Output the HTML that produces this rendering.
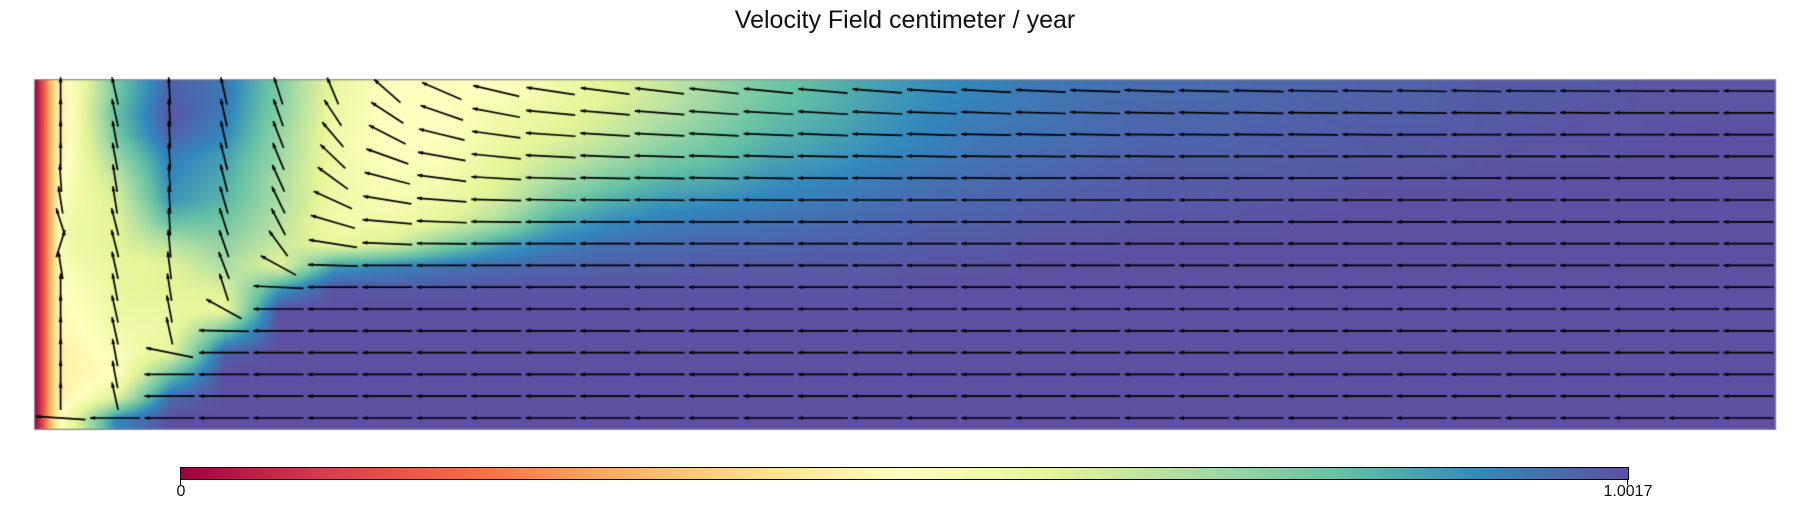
<!DOCTYPE html>
<html><head><meta charset="utf-8">
<style>
html,body{margin:0;padding:0;background:#fff;}
#root{position:relative;width:1810px;height:510px;overflow:hidden;font-family:"Liberation Sans",sans-serif;}
#title{position:absolute;left:0;width:1810px;top:6px;text-align:center;font-size:25px;color:#111;}
#plot{position:absolute;left:0;top:0;}
#cbar{position:absolute;left:180px;top:467px;width:1447px;height:11px;border:1px solid #000;
background:linear-gradient(to right,#9e0142 0%,#d53e4f 10%,#f46d43 20%,#fdae61 30%,#fee08b 40%,#ffffbf 50%,#e6f598 60%,#abdda4 70%,#66c2a5 80%,#3288bd 90%,#5e4fa2 100%);}
.tick{position:absolute;top:479px;width:1px;height:6px;background:#000;}
.lbl{position:absolute;top:483px;font-size:16px;color:#111;transform:translateX(-50%);}
</style></head>
<body>
<div id="root">
<div id="title">Velocity Field centimeter / year</div>
<canvas id="plot" width="1810" height="510"></canvas>
<div id="cbar"></div>
<div class="tick" style="left:180px"></div>
<div class="tick" style="left:1627px"></div>
<div class="lbl" style="left:181px">0</div>
<div class="lbl" style="left:1628px">1.0017</div>
</div>
<script>
// normalized speed per column (16 rows each, top to bottom)
const fieldByColumn = [
[.45,.45,.45,.47,.5,.52,.55,.55,.53,.5,.48,.47,.45,.45,.45,.5],
[.78,.8,.78,.72,.66,.62,.6,.6,.58,.58,.57,.55,.52,.5,.6,.9],
[.97,.99,.97,.92,.9,.88,.8,.68,.6,.6,.58,.57,.6,.8,.95,1],
[.93,.92,.9,.86,.84,.82,.78,.74,.7,.62,.58,.8,.97,1,1,1],
[.76,.75,.73,.72,.7,.7,.68,.65,.6,.86,1,1,1,1,1,1],
[.58,.57,.56,.56,.56,.56,.55,.58,.86,.99,1,1,1,1,1,1],
[.5,.5,.5,.5,.52,.53,.55,.62,.9,.98,1,1,1,1,1,1],
[.5,.5,.5,.52,.54,.56,.6,.75,.93,.98,1,1,1,1,1,1],
[.5,.55,.56,.58,.6,.63,.7,.85,.95,.99,1,1,1,1,1,1],
[.55,.58,.6,.64,.69,.76,.84,.91,.96,.99,1,1,1,1,1,1],
[.6,.62,.65,.7,.76,.83,.89,.94,.97,.99,1,1,1,1,1,1],
[.65,.68,.72,.76,.82,.87,.92,.95,.97,.99,1,1,1,1,1,1],
[.72,.74,.77,.8,.84,.89,.93,.96,.98,.99,1,1,1,1,1,1],
[.78,.8,.82,.85,.88,.91,.94,.96,.98,.99,1,1,1,1,1,1],
[.82,.83,.85,.87,.9,.92,.95,.97,.98,.99,1,1,1,1,1,1],
[.86,.87,.88,.9,.92,.94,.96,.97,.98,.99,1,1,1,1,1,1],
[.89,.9,.91,.92,.94,.95,.97,.98,.99,1,1,1,1,1,1,1],
[.91,.92,.93,.94,.95,.96,.97,.98,.99,1,1,1,1,1,1,1],
[.93,.93,.94,.95,.96,.97,.98,.99,1,1,1,1,1,1,1,1],
[.94,.95,.95,.96,.97,.98,.98,.99,1,1,1,1,1,1,1,1],
[.95,.96,.96,.97,.98,.98,.99,1,1,1,1,1,1,1,1,1],
[.95,.96,.96,.97,.98,.98,.99,1,1,1,1,1,1,1,1,1],
[.96,.96,.97,.97,.98,.99,.99,1,1,1,1,1,1,1,1,1],
[.96,.97,.97,.98,.98,.99,1,1,1,1,1,1,1,1,1,1],
[.97,.97,.98,.98,.99,1,1,1,1,1,1,1,1,1,1,1],
[.97,.97,.98,.98,.99,1,1,1,1,1,1,1,1,1,1,1],
[.98,.98,.98,.99,.99,1,1,1,1,1,1,1,1,1,1,1],
[.98,.98,.99,.99,1,1,1,1,1,1,1,1,1,1,1,1],
[.98,.99,.99,.99,1,1,1,1,1,1,1,1,1,1,1,1],
[.99,.99,.99,1,1,1,1,1,1,1,1,1,1,1,1,1],
[.99,.99,1,1,1,1,1,1,1,1,1,1,1,1,1,1],
[.99,.99,1,1,1,1,1,1,1,1,1,1,1,1,1,1]
];
// boundary layer at the left wall (offset px from wall, value)
const wallOffsets = [0,7,14,20];
const wallValues = [0,.12,.3,.42];
// flow direction (degrees, 90 = up, 180 = left) per column, 16 rows each
const angleByColumn = [
[90,90,90,90,92,95,100,80,95,90,90,90,90,90,90,173],
[97,97,96,96,95,95,98,98,97,96,97,97,96,96,97,180],
[92,92,92,92,92,92,92,93,94,95,96,97,160,180,180,180],
[97,97,97,98,98,99,100,101,102,100,135,178,180,180,180,180],
[100,101,102,103,104,105,106,112,135,175,180,180,180,180,180,180],
[103,110,115,120,127,140,152,164,177,180,180,180,180,180,180,180],
[122,130,137,147,155,164,171,176,180,180,180,180,180,180,180,180],
[142,148,156,162,167,172,176,179,180,180,180,180,180,180,180,180],
[157,161,166,170,174,177,179,180,180,180,180,180,180,180,180,180],
[165,170,173,175,177,178,180,180,180,180,180,180,180,180,180,180],
[167,171,174,176,178,179,180,180,180,180,180,180,180,180,180,180],
[168,172,175,177,178,179,180,180,180,180,180,180,180,180,180,180],
[169,173,175,177,178,179,180,180,180,180,180,180,180,180,180,180],
[170,174,176,177,178,179,180,180,180,180,180,180,180,180,180,180],
[171,174,176,178,179,180,180,180,180,180,180,180,180,180,180,180],
[172,175,177,178,179,180,180,180,180,180,180,180,180,180,180,180],
[173,176,177,178,179,180,180,180,180,180,180,180,180,180,180,180],
[174,176,178,179,179,180,180,180,180,180,180,180,180,180,180,180],
[175,177,178,179,180,180,180,180,180,180,180,180,180,180,180,180],
[176,177,178,179,180,180,180,180,180,180,180,180,180,180,180,180],
[176,178,179,179,180,180,180,180,180,180,180,180,180,180,180,180],
[177,178,179,180,180,180,180,180,180,180,180,180,180,180,180,180],
[177,178,179,180,180,180,180,180,180,180,180,180,180,180,180,180],
[178,179,179,180,180,180,180,180,180,180,180,180,180,180,180,180],
[178,179,179,180,180,180,180,180,180,180,180,180,180,180,180,180],
[178,179,180,180,180,180,180,180,180,180,180,180,180,180,180,180],
[178,179,180,180,180,180,180,180,180,180,180,180,180,180,180,180],
[179,179,180,180,180,180,180,180,180,180,180,180,180,180,180,180],
[179,179,180,180,180,180,180,180,180,180,180,180,180,180,180,180],
[179,180,180,180,180,180,180,180,180,180,180,180,180,180,180,180],
[179,180,180,180,180,180,180,180,180,180,180,180,180,180,180,180],
[179,180,180,180,180,180,180,180,180,180,180,180,180,180,180,180]
];

const PL=34.6, PT=79.7, PW=1741, PH=349.7;
const colX = c => 26 + 54.45*c;      // plot-relative
const rowY = r => 11.3 + 21.8*r;
const stops=[[158,1,66],[213,62,79],[244,109,67],[253,174,97],[254,224,139],[255,255,191],[230,245,152],[171,221,164],[102,194,165],[50,136,189],[94,79,162]];
function cmap(v){v=Math.max(0,Math.min(1,v))*10;const i=Math.min(9,Math.floor(v)),t=v-i;const a=stops[i],b=stops[i+1];
 return [a[0]+(b[0]-a[0])*t,a[1]+(b[1]-a[1])*t,a[2]+(b[2]-a[2])*t];}

const cv=document.getElementById('plot'),ctx=cv.getContext('2d');
const W=Math.round(PW),H=Math.round(PH);
const img=ctx.createImageData(W,H);
const nC=fieldByColumn.length,nR=fieldByColumn[0].length;
// x knots: wall profile + column centers
const xs=wallOffsets.concat(fieldByColumn.map((_,c)=>colX(c)));
function valAt(k,r){ if(k<wallOffsets.length) return wallValues[k]; return fieldByColumn[k-wallOffsets.length][r]; }
for(let py=0;py<H;py++){
  let fr=(py-11.3)/21.8; fr=Math.max(0,Math.min(nR-1,fr));
  const r0=Math.floor(fr),r1=Math.min(nR-1,r0+1),tr=fr-r0;
  let k=0;
  for(let px=0;px<W;px++){
    while(k<xs.length-2 && px>xs[k+1]) k++;
    let tx=(px-xs[k])/(xs[k+1]-xs[k]); tx=Math.max(0,Math.min(1,tx));
    const v0=valAt(k,r0)*(1-tr)+valAt(k,r1)*tr;
    const v1=valAt(k+1,r0)*(1-tr)+valAt(k+1,r1)*tr;
    const col=cmap(v0*(1-tx)+v1*tx);
    const o=(py*W+px)*4;img.data[o]=col[0];img.data[o+1]=col[1];img.data[o+2]=col[2];img.data[o+3]=255;
  }
}
ctx.putImageData(img,Math.round(PL),Math.round(PT));
ctx.strokeStyle='#888';ctx.lineWidth=1.2;ctx.strokeRect(PL,PT,PW,PH);

// arrows
ctx.strokeStyle='#000';ctx.fillStyle='#000';ctx.lineWidth=1.7;
const L=50, yScale=0.55;
for(let c=0;c<nC;c++){for(let r=0;r<nR;r++){
  const a=angleByColumn[c][r]*Math.PI/180;
  const dx=L*Math.cos(a), dy=-L*yScale*Math.sin(a);
  const cx=PL+colX(c), cy=PT+rowY(r);
  const hx=cx+dx/2, hy=cy+dy/2, tx=cx-dx/2, ty=cy-dy/2;
  ctx.beginPath();ctx.moveTo(tx,ty);ctx.lineTo(hx,hy);ctx.stroke();
  const len=Math.hypot(dx,dy),ux=dx/len,uy=dy/len;
  ctx.beginPath();ctx.moveTo(hx,hy);ctx.lineTo(hx-ux*5-uy*2,hy-uy*5+ux*2);ctx.lineTo(hx-ux*5+uy*2,hy-uy*5-ux*2);ctx.closePath();ctx.fill();
}}
</script>
</body></html>
